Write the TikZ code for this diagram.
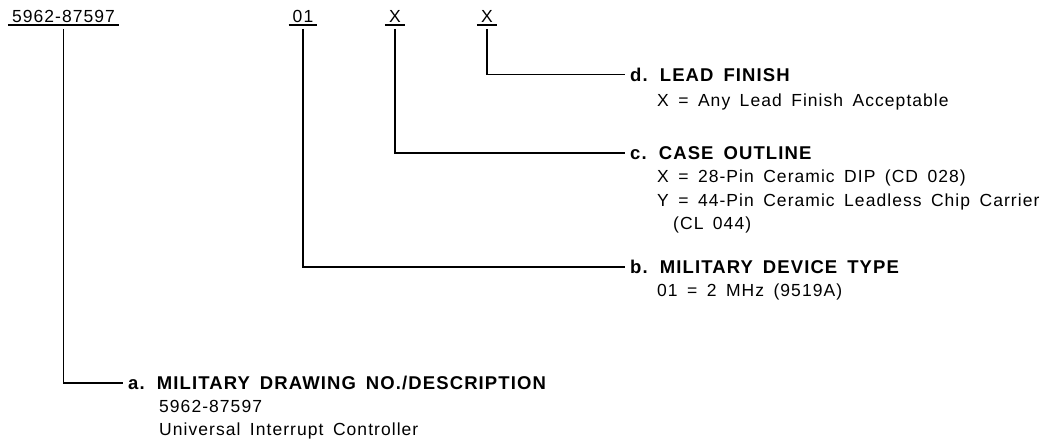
\documentclass[tikz,border=0pt]{standalone}
\usepackage{fontspec}
\newfontfamily\dwgfont[LetterSpace=6,WordSpace=1.6]{Liberation Sans}
\begin{document}
\begin{tikzpicture}[x=1pt,y=-1pt,
  code/.style={font=\dwgfont\fontsize{17.5}{20}\selectfont, anchor=south, inner xsep=4pt, inner ysep=2pt, text depth=0pt},
  head/.style={font=\dwgfont\bfseries\fontsize{18.5}{20}\selectfont, anchor=west, inner xsep=5pt, inner ysep=0pt, text height=13.2pt, text depth=0pt},
  desc/.style={font=\dwgfont\fontsize{17.5}{23.5}\selectfont, anchor=north west, inner sep=0pt, align=left},
  link/.style={line width=1.2pt, shorten <=4pt}]
  \useasboundingbox (0,0) rectangle (1049,444);

  % ---- Part number fields ----
  \node[code] (dwg) at (63.5,25) {5962-87597};
  \node[code] (typ) at (303,25) {01};
  \node[code] (cas) at (395,25) {X};
  \node[code] (fin) at (487,25) {X};
  \foreach \n in {dwg,typ,cas,fin} {\draw[line width=1.2pt] (\n.south west) -- (\n.south east);}

  % ---- Field headings ----
  \node[head] (hfin) at (625,74.5) {d. LEAD FINISH};
  \node[head] (hcas) at (625,153) {c. CASE OUTLINE};
  \node[head] (htyp) at (625,267) {b. MILITARY DEVICE TYPE};
  \node[head] (hdwg) at (123,383) {a. MILITARY DRAWING NO./DESCRIPTION};

  % ---- Field values ----
  \node[desc] (dfin) at (657,94) {X = Any Lead Finish Acceptable};
  \node[desc] (dcas) at (657,170) {X = 28-Pin Ceramic DIP (CD 028)\\Y = 44-Pin Ceramic Leadless Chip Carrier\\\hspace*{16pt}(CL 044)};
  \node[desc] (dtyp) at (657,284) {01 = 2 MHz (9519A)};
  \node[desc] (ddwg) at (159,400) {5962-87597\\Universal Interrupt Controller};

  % ---- Leaders ----
  \draw[link] (fin.south) |- (hfin.west);
  \draw[link] (cas.south) |- (hcas.west);
  \draw[link] (typ.south) |- (htyp.west);
  \draw[link] (dwg.south) |- (hdwg.west);
\end{tikzpicture}
\end{document}
